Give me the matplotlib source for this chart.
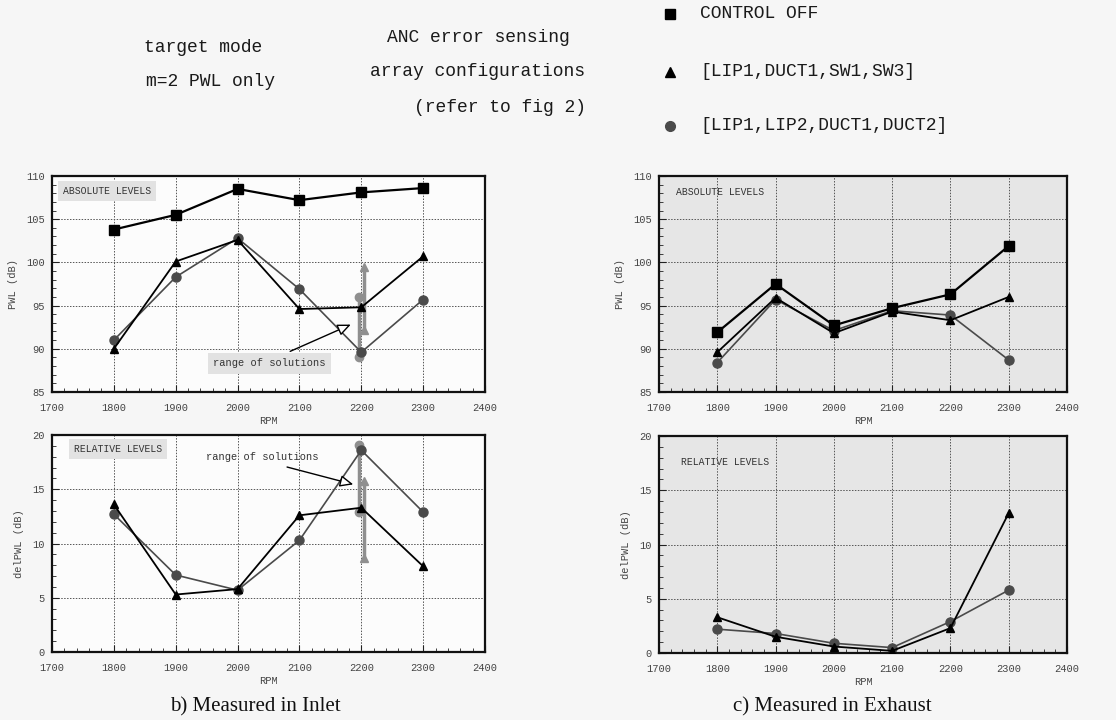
import matplotlib
matplotlib.use("Agg")
import matplotlib.pyplot as plt
from matplotlib.ticker import MultipleLocator

# ===============================
# Data
# ===============================
rpm = [1800, 1900, 2000, 2100, 2200, 2300]

inlet_abs_off = [103.8, 105.5, 108.5, 107.2, 108.1, 108.6]
inlet_abs_tri = [90.0, 100.1, 102.6, 94.6, 94.8, 100.7]
inlet_abs_cir = [91.0, 98.3, 102.8, 96.9, 89.6, 95.7]
inlet_rel_tri = [13.6, 5.3, 5.8, 12.6, 13.3, 7.9]
inlet_rel_cir = [12.7, 7.1, 5.7, 10.3, 18.6, 12.9]

exh_abs_off = [91.9, 97.5, 92.7, 94.7, 96.3, 101.9]
exh_abs_tri = [89.6, 95.9, 91.8, 94.3, 93.3, 96.0]
exh_abs_cir = [88.4, 95.7, 92.1, 94.4, 93.9, 88.7]
exh_rel_tri = [3.3, 1.5, 0.6, 0.2, 2.3, 12.9]
exh_rel_cir = [2.2, 1.8, 0.9, 0.5, 2.9, 5.8]

# range of solutions at 2200 rpm (min, max)
range_rpm = 2200
inlet_abs_tri_range = [92.2, 99.5]
inlet_abs_cir_range = [89.0, 96.0]
inlet_rel_tri_range = [8.7, 15.8]
inlet_rel_cir_range = [12.9, 19.1]

legend_labels = ["CONTROL OFF", "[LIP1,DUCT1,SW1,SW3]", "[LIP1,LIP2,DUCT1,DUCT2]"]

MONO = "Liberation Mono"
SERIF = "Liberation Serif"
TICK_C = "#444444"
CIR_C = "#4a4a4a"

fig = plt.figure(figsize=(11.16, 7.2), dpi=100, facecolor="#f6f6f6")


def setup(ax, ylim, ylabel, face):
    ax.set_facecolor(face)
    ax.set_xlim(1700, 2400)
    ax.set_ylim(*ylim)
    ax.xaxis.set_major_locator(MultipleLocator(100))
    ax.xaxis.set_minor_locator(MultipleLocator(20))
    ax.yaxis.set_major_locator(MultipleLocator(5))
    ax.yaxis.set_minor_locator(MultipleLocator(1))
    ax.tick_params(which="both", direction="in", top=False, right=False,
                   labelsize=7.5, labelcolor=TICK_C, colors="#222222")
    ax.tick_params(which="major", length=5, width=0.8)
    ax.tick_params(which="minor", length=3, width=0.6)
    ax.tick_params(axis="x", pad=8)
    ax.tick_params(axis="y", pad=5)
    for lab in ax.get_xticklabels() + ax.get_yticklabels():
        lab.set_family(MONO)
    ax.grid(True, which="major", linestyle=(0, (1.5, 1.5)), color="#555555", linewidth=0.7)
    for s in ax.spines.values():
        s.set_linewidth(1.6)
        s.set_color("#111111")
    ax.set_xlabel("RPM", family=MONO, fontsize=7.5, color=TICK_C, labelpad=2)
    ax.set_ylabel(ylabel, family=MONO, fontsize=7.5, color=TICK_C, labelpad=6)


def series(ax, off, tri, cir):
    if off is not None:
        ax.plot(rpm, off, color="black", lw=1.6, marker="s", ms=6.5, zorder=5)
    ax.plot(rpm, tri, color="black", lw=1.3, marker="^", ms=6, zorder=5)
    ax.plot(rpm, cir, color=CIR_C, lw=1.2, marker="o", ms=6.5, zorder=4)


def ranges(ax, tri_rng, cir_rng):
    ax.plot([range_rpm - 3, range_rpm - 3], cir_rng, color="#8f8f8f", lw=2.5,
            marker="o", ms=6, zorder=3, solid_capstyle="butt")
    ax.plot([range_rpm + 5, range_rpm + 5], tri_rng, color="#8f8f8f", lw=2.5,
            marker="^", ms=5.5, zorder=3, solid_capstyle="butt")


box = dict(boxstyle="square,pad=0.5", facecolor="#e2e2e2", edgecolor="none")
arrow = dict(arrowstyle="-|>,head_length=0.8,head_width=0.35", facecolor="white",
             edgecolor="black", lw=1.0, shrinkA=0, shrinkB=0)

# ===============================
# b) Inlet
# ===============================
ax1 = fig.add_axes([0.0466, 0.4556, 0.388, 0.300])
setup(ax1, (85, 110), "PWL (dB)", "#fcfcfc")
ranges(ax1, inlet_abs_tri_range, inlet_abs_cir_range)
series(ax1, inlet_abs_off, inlet_abs_tri, inlet_abs_cir)
ax1.text(1718, 108.3, "ABSOLUTE LEVELS", family=MONO, fontsize=7, color="#333333",
         va="center", bbox=box, zorder=2)
ax1.text(2052, 88.3, "range of solutions", family=MONO, fontsize=7.5, color="#333333",
         ha="center", va="center", bbox=box, zorder=2)
ax1.annotate("", xy=(2183, 92.8), xytext=(2085, 89.7), arrowprops=arrow, zorder=6)

ax2 = fig.add_axes([0.0466, 0.0944, 0.388, 0.3014])
setup(ax2, (0, 20), "delPWL (dB)", "#fcfcfc")
ranges(ax2, inlet_rel_tri_range, inlet_rel_cir_range)
series(ax2, None, inlet_rel_tri, inlet_rel_cir)
ax2.text(1736, 18.7, "RELATIVE LEVELS", family=MONO, fontsize=7, color="#333333",
         va="center", bbox=box, zorder=2)
ax2.text(2040, 18.0, "range of solutions", family=MONO, fontsize=7.5, color="#333333",
         ha="center", va="center")
ax2.annotate("", xy=(2187, 15.45), xytext=(2080, 17.05), arrowprops=arrow, zorder=6)

# ===============================
# c) Exhaust
# ===============================
ax3 = fig.add_axes([0.5905, 0.4556, 0.3656, 0.300])
setup(ax3, (85, 110), "PWL (dB)", "#e6e6e6")
series(ax3, exh_abs_off, exh_abs_tri, exh_abs_cir)
ax3.text(1730, 108.2, "ABSOLUTE LEVELS", family=MONO, fontsize=7, color="#333333",
         va="center")

ax4 = fig.add_axes([0.5905, 0.093, 0.3656, 0.3014])
setup(ax4, (0, 20), "delPWL (dB)", "#e6e6e6")
series(ax4, None, exh_rel_tri, exh_rel_cir)
ax4.text(1737, 17.6, "RELATIVE LEVELS", family=MONO, fontsize=7, color="#333333",
         va="center")

# ===============================
# Captions and header
# ===============================
fig.text(255 / 1116, 1 - 707 / 720, "b) Measured in Inlet", family=SERIF,
         fontsize=15, ha="center", va="center", color="#111111")
fig.text(832 / 1116, 1 - 707 / 720, "c) Measured in Exhaust", family=SERIF,
         fontsize=15, ha="center", va="center", color="#111111")

hdr = dict(family=MONO, fontsize=13, color="#1a1a1a", va="center")
fig.text(203 / 1116, 1 - 47 / 720, "target mode", ha="center", **hdr)
fig.text(211 / 1116, 1 - 82 / 720, "m=2 PWL only", ha="center", **hdr)
fig.text(478 / 1116, 1 - 38 / 720, "ANC error sensing", ha="center", **hdr)
fig.text(478 / 1116, 1 - 72 / 720, "array configurations", ha="center", **hdr)
fig.text(500 / 1116, 1 - 107 / 720, "(refer to fig 2)", ha="center", **hdr)

leg_y = [14, 72, 126]
leg_m = ["s", "^", "o"]
leg_c = ["black", "black", CIR_C]
for y, m, c, lab in zip(leg_y, leg_m, leg_c, legend_labels):
    fig.lines.append(plt.Line2D([670 / 1116], [1 - y / 720], marker=m, color=c,
                                ms=7, transform=fig.transFigure, linestyle="none"))
    fig.text(700 / 1116, 1 - y / 720, lab, ha="left", **hdr)

fig.savefig("out.png", dpi=100, facecolor=fig.get_facecolor())
